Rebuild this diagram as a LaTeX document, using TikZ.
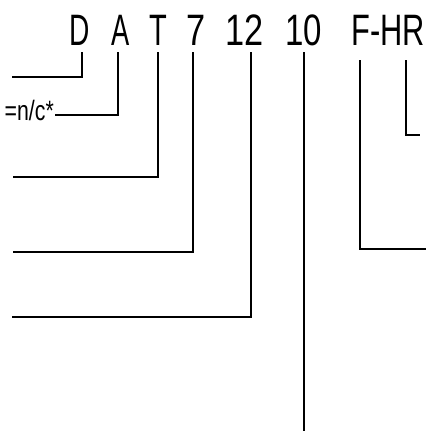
\documentclass[tikz,border=0pt]{standalone}
\usepackage{fontspec}
\newfontfamily\codefont{Liberation Sans}
\begin{document}
\begin{tikzpicture}[x=1pt,y=-1pt,
  code/.style={inner sep=0pt,anchor=base,font=\codefont\fontsize{44}{44}\selectfont},
  note/.style={inner sep=0pt,anchor=base east,font=\codefont\fontsize{28}{28}\selectfont},
  lead/.style={line width=1.2pt,line cap=butt,line join=miter}]
\useasboundingbox (0,0) rectangle (426,431);

% order code characters
\node[code] (D)  at (80,45)  {\scalebox{0.64}[1]{D}};
\node[code] (A)  at (121,45) {\scalebox{0.62}[1]{A}};
\node[code] (T)  at (158,45) {\scalebox{0.66}[1]{T}};
\node[code] (S)  at (196,45) {\scalebox{0.78}[1]{7}};
\node[code] (W)  at (245,45) {\scalebox{0.78}[1]{12}};
\node[code] (L)  at (304,45) {\scalebox{0.75}[1]{10}};
\node[code] (FH) at (388,45) {\scalebox{0.70}[1]{F-HR}};

% explanation text stub
\node[note] (nc) at (54,120) {\scalebox{0.76}[1]{=n/c*}};

% leader line start points
\coordinate (dTop) at (82,52);
\coordinate (aTop) at (118,52);
\coordinate (tTop) at (158,52);
\coordinate (sTop) at (193,52);
\coordinate (wTop) at (251,52);
\coordinate (lTop) at (304,52);
\coordinate (fTop) at (360,60);
\coordinate (rTop) at (406,60);

% leader line end points
\coordinate (dEnd) at (12,77);
\coordinate (aEnd) at (55,115);
\coordinate (tEnd) at (13,177);
\coordinate (sEnd) at (13,252);
\coordinate (wEnd) at (12,317);
\coordinate (lEnd) at (304,431);
\coordinate (fEnd) at (426,249);
\coordinate (rEnd) at (420,135);

\draw[lead] (dTop) |- (dEnd);
\draw[lead] (aTop) |- (aEnd);
\draw[lead] (tTop) |- (tEnd);
\draw[lead] (sTop) |- (sEnd);
\draw[lead] (wTop) |- (wEnd);
\draw[lead] (lTop) -- (lEnd);
\draw[lead] (fTop) |- (fEnd);
\draw[lead] (rTop) |- (rEnd);
\end{tikzpicture}
\end{document}
